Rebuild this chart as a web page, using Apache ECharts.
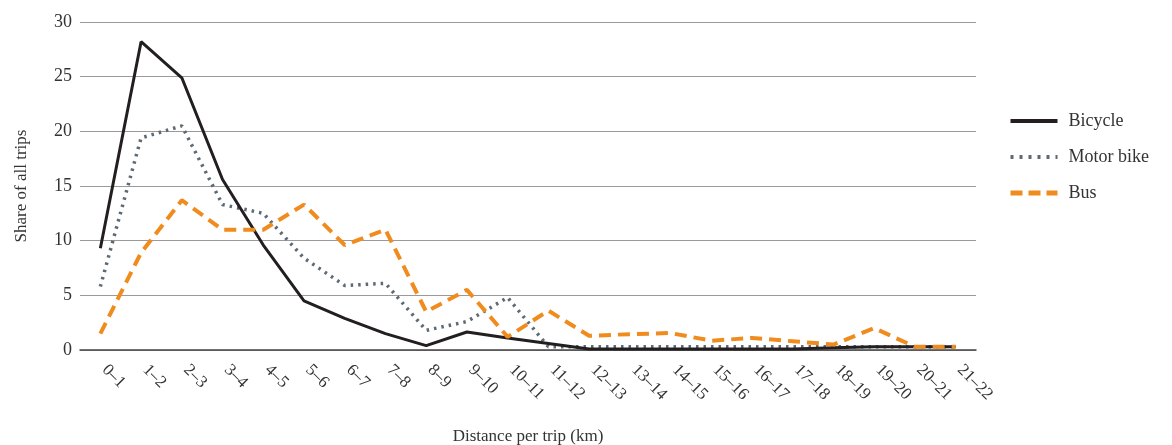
<!DOCTYPE html>
<html><head><meta charset="utf-8">
<script src="https://cdn.jsdelivr.net/npm/echarts@6/dist/echarts.min.js"></script>
<style>html,body{margin:0;padding:0;background:#fff}#c{width:1172px;height:445px}</style>
</head><body><div id="c"></div>
<script>
const categories = ['0–1','1–2','2–3','3–4','4–5','5–6','6–7','7–8','8–9','9–10','10–11','11–12','12–13','13–14','14–15','15–16','16–17','17–18','18–19','19–20','20–21','21–22'];
const bicycle = [9.3,28.2,24.9,15.6,9.6,4.5,2.9,1.5,0.4,1.65,1.1,0.6,0.1,0.1,0.1,0.1,0.1,0.1,0.2,0.3,0.3,0.3];
const motorBike = [5.8,19.4,20.5,13.3,12.5,8.4,5.9,6.1,1.8,2.6,4.8,0.3,0.3,0.3,0.3,0.3,0.3,0.3,0.3,0.3,0.3,0.3];
const bus = [1.5,8.9,13.7,11.0,11.0,13.3,9.6,11.0,3.5,5.5,1.2,3.6,1.3,1.45,1.55,0.85,1.1,0.8,0.5,2.0,0.3,0.3];
const yTicks = {min:0,max:30,interval:5};
const font = '"Liberation Serif", "DejaVu Serif", serif';

const chart = echarts.init(document.getElementById('c'), null, {renderer:'canvas'});
chart.setOption({
  animation:false,
  textStyle:{fontFamily:font},
  grid:{left:80,right:196,top:22,bottom:95,containLabel:false,outerBoundsMode:'none'},
  legend:{
    orient:'vertical', left:1003, top:107, itemWidth:47, itemHeight:14, itemGap:18,
    itemStyle:{opacity:0},
    textStyle:{fontFamily:font,fontSize:18,color:'#333',padding:[0,0,0,6]},
    data:[
      {name:'Bicycle', lineStyle:{width:4}},
      {name:'Motor bike', lineStyle:{width:4,type:[3,6]}},
      {name:'Bus', lineStyle:{width:5,type:[12,6]}}
    ]
  },
  xAxis:{
    type:'category', data:categories, boundaryGap:true,
    name:'Distance per trip (km)', nameLocation:'middle', nameGap:78,
    nameTextStyle:{fontFamily:font,fontSize:17,color:'#333'},
    axisLine:{lineStyle:{color:'#444',width:1.5}},
    axisTick:{show:false},
    axisLabel:{rotate:-45,margin:13,padding:[0,0,0,6],fontFamily:font,fontSize:17,color:'#333',interval:0}
  },
  yAxis:{
    type:'value', min:yTicks.min, max:yTicks.max, interval:yTicks.interval,
    name:'Share of all trips', nameLocation:'middle', nameGap:50,
    nameTextStyle:{fontFamily:font,fontSize:17,color:'#333'},
    axisLine:{show:false}, axisTick:{show:false},
    axisLabel:{fontFamily:font,fontSize:18,color:'#333',margin:8},
    splitLine:{lineStyle:{color:'#9a9a9a',width:1}}
  },
  series:[
    {name:'Bicycle',type:'line',data:bicycle,symbol:'none',
     lineStyle:{color:'#231f20',width:3},itemStyle:{color:'#231f20'},z:3},
    {name:'Motor bike',type:'line',data:motorBike,symbol:'none',
     lineStyle:{color:'#5d6a74',width:3.5,type:[2.5,5],cap:'butt'},itemStyle:{color:'#5d6a74'},z:2},
    {name:'Bus',type:'line',data:bus,symbol:'none',
     lineStyle:{color:'#f08c1e',width:4,type:[12,7],cap:'butt'},itemStyle:{color:'#f08c1e'},z:4}
  ]
});
</script></body></html>
